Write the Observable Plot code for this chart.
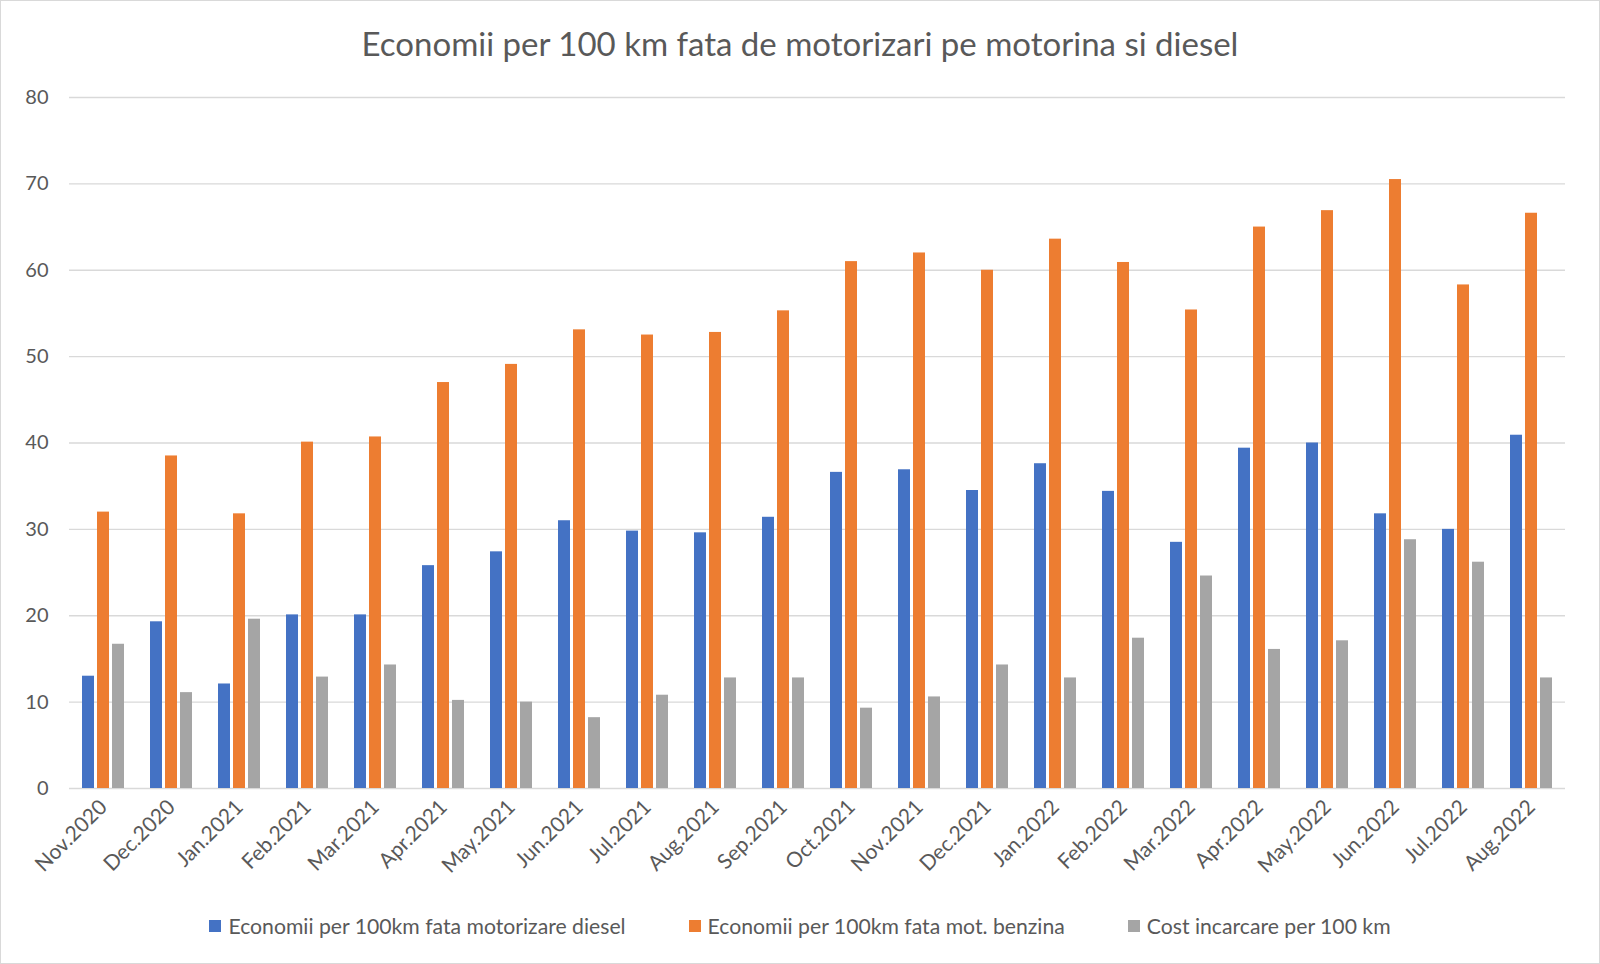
<!DOCTYPE html>
<html>
<head>
<meta charset="utf-8">
<script src="https://cdn.jsdelivr.net/npm/d3@7"></script>
<script src="https://cdn.jsdelivr.net/npm/@observablehq/plot@0.6"></script>
<style>
  html, body { margin: 0; padding: 0; background: #fff; }
  #frame { position: relative; width: 1598px; height: 962px; border: 1px solid #d9d9d9; overflow: hidden; font-family: Lato, "Open Sans", sans-serif; color: #595959; }
  #title { height: 70px; box-sizing: border-box; padding-top: 14px; line-height: 56px; text-align: center; font-size: 33px; color: #595959; }
  #chart svg { display: block; }
  #legend { display: flex; justify-content: center; align-items: center; gap: 63px; height: 50px; font-size: 21.2px; color: #595959; }
  .item { display: flex; align-items: center; gap: 7px; }
  .sw { width: 12px; height: 12px; display: inline-block; }
</style>
</head>
<body>
<div id="frame">
  <div id="title">Economii per 100 km fata de motorizari pe motorina si diesel</div>
  <div id="chart"></div>
  <div id="legend"></div>
</div>
<script>
const months = ["Nov.2020","Dec.2020","Jan.2021","Feb.2021","Mar.2021","Apr.2021","May.2021","Jun.2021","Jul.2021","Aug.2021","Sep.2021","Oct.2021","Nov.2021","Dec.2021","Jan.2022","Feb.2022","Mar.2022","Apr.2022","May.2022","Jun.2022","Jul.2022","Aug.2022"];
const diesel  = [13.0,19.3,12.1,20.1,20.1,25.8,27.4,31.0,29.8,29.6,31.4,36.6,36.9,34.5,37.6,34.4,28.5,39.4,40.0,31.8,30.0,40.9];
const benzina = [32.0,38.5,31.8,40.1,40.7,47.0,49.1,53.1,52.5,52.8,55.3,61.0,62.0,60.0,63.6,60.9,55.4,65.0,66.9,70.5,58.3,66.6];
const cost    = [16.7,11.1,19.6,12.9,14.3,10.2,10.0,8.2,10.8,12.8,12.8,9.3,10.6,14.3,12.8,17.4,24.6,16.1,17.1,28.8,26.2,12.8];
const seriesNames = ["Economii per 100km fata motorizare diesel","Economii per 100km fata mot. benzina","Cost incarcare per 100 km"];
const seriesColors = ["#4472C4","#ED7D31","#A5A5A5"];
const yTicks = [0,10,20,30,40,50,60,70,80];

const seriesValues = [diesel, benzina, cost];
const rows = [];
months.forEach((m, i) => {
  seriesNames.forEach((s, j) => rows.push({month: m, series: s, value: seriesValues[j][i]}));
});

const chart = Plot.plot({
  width: 1598,
  height: 830,
  marginTop: 26,
  marginLeft: 62,
  marginRight: 28,
  marginBottom: 113,
  style: {fontFamily: "Lato, 'Open Sans', sans-serif", fontSize: "20px", color: "#595959", background: "transparent", overflow: "visible"},
  fx: {domain: months, padding: 0, label: null},
  x: {domain: seriesNames, paddingInner: 0.22, paddingOuter: 0.86, axis: null},
  y: {domain: [0, 80], ticks: yTicks, label: null, tickSize: 0, tickPadding: 21},
  color: {domain: seriesNames, range: seriesColors},
  marks: [
    Plot.gridY(yTicks, {stroke: "#d9d9d9", strokeOpacity: 1, strokeWidth: 1.3}),
    Plot.barY(rows, {fx: "month", x: "series", y: "value", fill: "series"}),
    Plot.axisFx({anchor: "bottom", tickRotate: -45, fontSize: 21, tickSize: 0, tickPadding: 15, label: null})
  ]
});
document.getElementById("chart").appendChild(chart);

const legend = document.getElementById("legend");
seriesNames.forEach((s, j) => {
  const item = document.createElement("div");
  item.className = "item";
  const sw = document.createElement("span");
  sw.className = "sw";
  sw.style.background = seriesColors[j];
  const t = document.createElement("span");
  t.textContent = s;
  item.appendChild(sw); item.appendChild(t);
  legend.appendChild(item);
});
</script>
</body>
</html>
